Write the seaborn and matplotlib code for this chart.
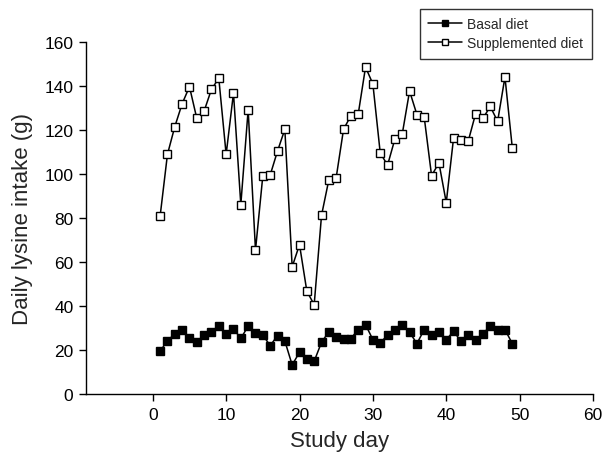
import matplotlib
matplotlib.use("Agg")
import matplotlib.pyplot as plt
import seaborn as sns
import pandas as pd

days = list(range(1, 50))
basal = [19.4, 24.3, 27.2, 29.3, 25.5, 23.8, 26.8, 28.3, 31.1, 27.2,
         29.6, 25.3, 30.8, 27.6, 26.8, 22.0, 26.5, 24.1, 13.2, 19.0,
         15.9, 14.9, 23.5, 28.3, 26.1, 25.2, 25.2, 29.3, 31.5, 24.7,
         23.3, 26.7, 29.3, 31.4, 28.1, 22.9, 29.3, 26.8, 28.1, 24.7,
         28.5, 24.0, 27.0, 24.4, 27.2, 31.1, 29.3, 29.3, 22.9]
supplemented = [80.8, 108.9, 121.5, 131.9, 139.7, 125.3, 128.6, 138.5, 143.5, 108.9,
                136.8, 86.1, 129.2, 65.4, 99.2, 99.5, 110.4, 120.3, 57.8, 67.9,
                46.7, 40.6, 81.2, 97.4, 98.4, 120.3, 126.5, 127.2, 148.6, 140.9,
                109.6, 104.0, 115.9, 118.1, 137.7, 127.0, 125.7, 99.2, 105.1, 87.0,
                116.5, 115.3, 115.0, 127.4, 125.3, 130.7, 123.9, 144.1, 111.9]
series_names = ["Basal diet", "Supplemented diet"]
x_ticks = [0, 10, 20, 30, 40, 50, 60]
y_ticks = [0, 20, 40, 60, 80, 100, 120, 140, 160]

df = pd.DataFrame({"day": days, "basal": basal, "supp": supplemented})

sns.set_style("ticks")
plt.rcParams['font.family'] = ['Liberation Sans', 'DejaVu Sans']

fig = plt.figure(figsize=(6.03, 4.60), dpi=100)
ax = fig.add_axes([86/603, 1 - 395/460, (593-86)/603, (395-43)/460])

sns.lineplot(data=df, x="day", y="basal", ax=ax, color="black", linewidth=1.1,
             marker="s", markersize=5.5, markerfacecolor="black",
             markeredgecolor="black", markeredgewidth=1.0, label=series_names[0])
sns.lineplot(data=df, x="day", y="supp", ax=ax, color="black", linewidth=1.1,
             marker="s", markersize=5.5, markerfacecolor="white",
             markeredgecolor="black", markeredgewidth=1.0, label=series_names[1])

ax.set_xlim(-9.1, 60)
ax.set_ylim(0, 160)
ax.set_xticks(x_ticks)
ax.set_yticks(y_ticks)
ax.tick_params(direction="out", length=5, width=1, labelsize=12.5, colors="black", pad=4)
for s in ["top", "right"]:
    ax.spines[s].set_visible(False)
for s in ["left", "bottom"]:
    ax.spines[s].set_linewidth(1)
    ax.spines[s].set_color("black")

ax.set_xlabel("Study day", fontsize=16, labelpad=6)
ax.set_ylabel("Daily lysine intake (g)", fontsize=16, labelpad=8)

leg = ax.legend(loc="upper left", bbox_to_anchor=((420-86)/507, 1 + (43-10)/352),
                fontsize=10, frameon=True, fancybox=False, edgecolor="black",
                borderpad=0.6, handlelength=2.4, handletextpad=0.4,
                labelspacing=0.35, borderaxespad=0)
leg.get_frame().set_linewidth(1)
for h in leg.legend_handles:
    h.set_markersize(5)

fig.savefig("out.png", dpi=100)
